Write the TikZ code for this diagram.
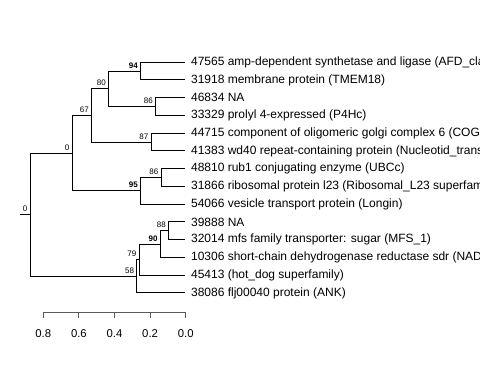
\documentclass[tikz,border=0pt]{standalone}
\usepackage{fontspec}
\setmainfont{Liberation Sans}
\tikzset{
 leaf/.style={anchor=west,inner sep=4pt,font=\fontsize{9}{10}\selectfont},
 nlab/.style={anchor=south east,inner sep=2pt,font=\fontsize{6}{7}\selectfont},
 axlab/.style={inner sep=0pt,font=\fontsize{8.5}{10}\selectfont},
 branch/.style={line width=0.75pt,black},
 axis/.style={line width=0.75pt,black!65}
}
\begin{document}
\begin{tikzpicture}[x=0.75pt,y=-0.75pt]
 \useasboundingbox (0,0) rectangle (480,384);
 \clip (0,0) rectangle (480,384);
 % leaves
 \node[leaf] (l47565) at (185.5,62.2) {47565 amp-dependent synthetase and ligase (AFD\_cla};
 \node[leaf] (l31918) at (185.5,80.0) {31918 membrane protein (TMEM18)};
 \node[leaf] (l46834) at (185.5,97.7) {46834 NA};
 \node[leaf] (l33329) at (185.5,115.5) {33329 prolyl 4-expressed (P4Hc)};
 \node[leaf] (l44715) at (185.5,133.2) {44715 component of oligomeric golgi complex 6 (COG};
 \node[leaf] (l41383) at (185.5,151.0) {41383 wd40 repeat-containing protein (Nucleotid\_trans};
 \node[leaf] (l48810) at (185.5,168.8) {48810 rub1 conjugating enzyme (UBCc)};
 \node[leaf] (l31866) at (185.5,186.5) {31866 ribosomal protein l23 (Ribosomal\_L23 superfam};
 \node[leaf] (l54066) at (185.5,204.3) {54066 vesicle transport protein (Longin)};
 \node[leaf] (l39888) at (185.5,222.0) {39888 NA};
 \node[leaf] (l32014) at (185.5,239.8) {32014 mfs family transporter: sugar (MFS\_1)};
 \node[leaf] (l10306) at (185.5,257.5) {10306 short-chain dehydrogenase reductase sdr (NAD};
 \node[leaf] (l45413) at (185.5,275.3) {45413 (hot\_dog superfamily)};
 \node[leaf] (l38086) at (185.5,293.0) {38086 flj00040 protein (ANK)};
 % inner nodes
 \coordinate (n94) at (140.7,71.1);
 \coordinate (n86a) at (155.7,106.6);
 \coordinate (n80) at (108.7,88.9);
 \coordinate (n87) at (151.3,142.1);
 \coordinate (n67) at (91.7,115.5);
 \coordinate (n86b) at (161.3,177.7);
 \coordinate (n95) at (140.7,191.0);
 \coordinate (n0a) at (72.3,153.2);
 \coordinate (n88) at (168.8,230.9);
 \coordinate (n90) at (160.5,244.2);
 \coordinate (n79) at (139.3,259.8);
 \coordinate (n58) at (136.9,276.4);
 \coordinate (root) at (30.3,214.8);
 \coordinate (stem) at (20.5,214.8);
 % branches
 \draw[branch] (n94) |- (l47565.west);
 \draw[branch] (n94) |- (l31918.west);
 \draw[branch] (n86a) |- (l46834.west);
 \draw[branch] (n86a) |- (l33329.west);
 \draw[branch] (n80) |- (n94);
 \draw[branch] (n80) |- (n86a);
 \draw[branch] (n87) |- (l44715.west);
 \draw[branch] (n87) |- (l41383.west);
 \draw[branch] (n67) |- (n80);
 \draw[branch] (n67) |- (n87);
 \draw[branch] (n86b) |- (l48810.west);
 \draw[branch] (n86b) |- (l31866.west);
 \draw[branch] (n95) |- (n86b);
 \draw[branch] (n95) |- (l54066.west);
 \draw[branch] (n0a) |- (n67);
 \draw[branch] (n0a) |- (n95);
 \draw[branch] (n88) |- (l39888.west);
 \draw[branch] (n88) |- (l32014.west);
 \draw[branch] (n90) |- (n88);
 \draw[branch] (n90) |- (l10306.west);
 \draw[branch] (n79) |- (n90);
 \draw[branch] (n79) |- (l45413.west);
 \draw[branch] (n58) |- (n79);
 \draw[branch] (n58) |- (l38086.west);
 \draw[branch] (root) |- (n0a);
 \draw[branch] (root) |- (n58);
 \draw[branch] (stem) -- (root);
 % support values
 \node[nlab] (s94) at (n94) {\textbf{94}};
 \node[nlab] (s86a) at (n86a) {86};
 \node[nlab] (s80) at (n80) {80};
 \node[nlab] (s87) at (n87) {87};
 \node[nlab] (s67) at (n67) {67};
 \node[nlab] (s86b) at (n86b) {86};
 \node[nlab] (s95) at (n95) {\textbf{95}};
 \node[nlab] (s0a) at (n0a) {0};
 \node[nlab] (s88) at (n88) {88};
 \node[nlab] (s90) at (n90) {\textbf{90}};
 \node[nlab] (s79) at (n79) {79};
 \node[nlab] (s58) at (n58) {58};
 \node[nlab] (s0) at (root) {0};
 % scale axis
 \coordinate (a08) at (43.3,312.7);
 \coordinate (a06) at (78.9,312.7);
 \coordinate (a04) at (114.5,312.7);
 \coordinate (a02) at (150.1,312.7);
 \coordinate (a00) at (185.7,312.7);
 \draw[axis] (a08) -- (a00);
 \draw[axis] (a08) -- ++(0,5.6);
 \draw[axis] (a06) -- ++(0,5.6);
 \draw[axis] (a04) -- ++(0,5.6);
 \draw[axis] (a02) -- ++(0,5.6);
 \draw[axis] (a00) -- ++(0,5.6);
 \node[axlab] (t08) at (43.3,333.5) {0.8};
 \node[axlab] (t06) at (78.9,333.5) {0.6};
 \node[axlab] (t04) at (114.5,333.5) {0.4};
 \node[axlab] (t02) at (150.1,333.5) {0.2};
 \node[axlab] (t00) at (185.7,333.5) {0.0};
\end{tikzpicture}
\end{document}
